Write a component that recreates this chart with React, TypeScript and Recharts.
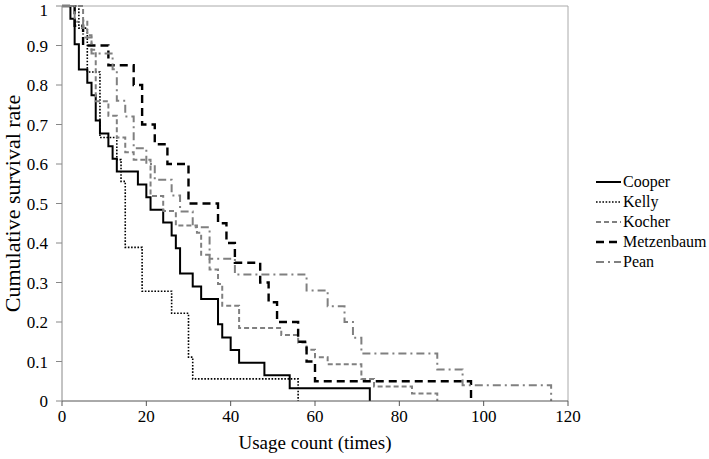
import { LineChart, Line, XAxis, YAxis, ReferenceLine } from 'recharts'

// Kaplan-Meier style steps: usage count at which survival drops, and the new rate
const cooperUsage = [0, 2, 3, 4, 6, 7, 8, 9, 11, 12, 13, 18, 20, 21, 24, 26, 27, 28, 31, 33, 37, 38, 40, 42, 48, 54, 73]
const cooperSurvival = [1, 0.968, 0.903, 0.839, 0.806, 0.774, 0.71, 0.677, 0.645, 0.613, 0.581, 0.548, 0.516, 0.484, 0.452, 0.419, 0.387, 0.323, 0.29, 0.258, 0.194, 0.161, 0.129, 0.097, 0.065, 0.032, 0]

const kellyUsage = [0, 4, 6, 9, 13, 14, 15, 19, 26, 30, 31, 56]
const kellySurvival = [1, 0.944, 0.833, 0.667, 0.611, 0.556, 0.389, 0.278, 0.222, 0.111, 0.056, 0]

const kocherUsage = [0, 5, 6, 7, 8, 11, 13, 15, 17, 21, 24, 27, 32, 33, 35, 37, 38, 42, 52, 56, 58, 60, 63, 71, 74, 83, 89]
const kocherSurvival = [1, 0.963, 0.926, 0.889, 0.759, 0.722, 0.667, 0.63, 0.611, 0.519, 0.481, 0.444, 0.426, 0.37, 0.333, 0.296, 0.241, 0.185, 0.167, 0.148, 0.13, 0.111, 0.093, 0.056, 0.037, 0.019, 0]

const metzUsage = [0, 3, 5, 11, 17, 19, 22, 25, 30, 37, 39, 41, 47, 49, 51, 56, 58, 60, 97]
const metzSurvival = [1, 0.95, 0.9, 0.85, 0.8, 0.7, 0.65, 0.6, 0.5, 0.45, 0.4, 0.35, 0.3, 0.25, 0.2, 0.15, 0.1, 0.05, 0]

const peanUsage = [0, 3, 5, 7, 12, 13, 15, 17, 20, 22, 26, 28, 31, 35, 41, 58, 63, 67, 69, 71, 89, 95, 116]
const peanSurvival = [1, 0.96, 0.92, 0.88, 0.84, 0.76, 0.72, 0.64, 0.6, 0.56, 0.52, 0.48, 0.44, 0.36, 0.32, 0.28, 0.24, 0.2, 0.16, 0.12, 0.08, 0.04, 0]

const xTicks = [0, 20, 40, 60, 80, 100, 120]
const yTicks = [0, 0.1, 0.2, 0.3, 0.4, 0.5, 0.6, 0.7, 0.8, 0.9, 1]

const toPoints = (xs: number[], ys: number[]) => xs.map((x, i) => ({ x, y: ys[i] }))

const series = [
  { name: 'Cooper', data: toPoints(cooperUsage, cooperSurvival), stroke: '#000', width: 2, dash: undefined },
  { name: 'Kelly', data: toPoints(kellyUsage, kellySurvival), stroke: '#000', width: 1.6, dash: '1.6 1.6' },
  { name: 'Kocher', data: toPoints(kocherUsage, kocherSurvival), stroke: '#808080', width: 2, dash: '5 3' },
  { name: 'Metzenbaum', data: toPoints(metzUsage, metzSurvival), stroke: '#000', width: 2.4, dash: '8 5' },
  { name: 'Pean', data: toPoints(peanUsage, peanSurvival), stroke: '#808080', width: 2, dash: '8 4 2 4' },
]

const font = '"Liberation Serif", "Times New Roman", serif'

function LegendBox() {
  return (
    <div style={{ position: 'absolute', left: 596, top: 172, fontFamily: font, fontSize: 16, color: '#000' }}>
      {series.map(s => (
        <div key={s.name} style={{ display: 'flex', alignItems: 'center', height: 20 }}>
          <svg width={26} height={10} style={{ marginRight: 1 }}>
            <line x1={0} y1={5} x2={25} y2={5} stroke={s.stroke} strokeWidth={s.width} strokeDasharray={s.dash} />
          </svg>
          <span>{s.name}</span>
        </div>
      ))}
    </div>
  )
}

export default function App() {
  return (
    <div style={{ position: 'absolute', left: 0, top: 0, width: 709, height: 459, background: '#fff' }}>
      <LineChart width={709} height={459} margin={{ top: 6, right: 141, bottom: 0, left: 0 }}>
        <XAxis
          type="number"
          dataKey="x"
          domain={[0, 120]}
          ticks={xTicks}
          allowDuplicatedCategory={false}
          height={58}
          stroke="#555"
          tickSize={5}
          tickMargin={4}
          tick={{ fontFamily: font, fontSize: 17, fill: '#000' }}
          label={{ value: 'Usage count (times)', position: 'insideBottom', offset: 10, style: { fontFamily: font, fontSize: 19, fill: '#000' } }}
        />
        <YAxis
          type="number"
          dataKey="y"
          domain={[0, 1]}
          ticks={yTicks}
          width={62}
          stroke="#888"
          tickSize={6}
          tickMargin={8}
          tickFormatter={v => String(Math.round(v * 10) / 10)}
          tick={{ fontFamily: font, fontSize: 17, fill: '#000' }}
          label={{ value: 'Cumulative survival rate', angle: -90, position: 'insideLeft', offset: 12, style: { fontFamily: font, fontSize: 22, fill: '#000', textAnchor: 'middle' } }}
        />
        <ReferenceLine y={1} stroke="#aaa" />
        <ReferenceLine x={120} stroke="#aaa" />
        {series.map(s => (
          <Line
            key={s.name}
            data={s.data}
            dataKey="y"
            name={s.name}
            type="stepAfter"
            stroke={s.stroke}
            strokeWidth={s.width}
            strokeDasharray={s.dash}
            dot={false}
            activeDot={false}
            isAnimationActive={false}
          />
        ))}
      </LineChart>
      <LegendBox />
    </div>
  )
}
